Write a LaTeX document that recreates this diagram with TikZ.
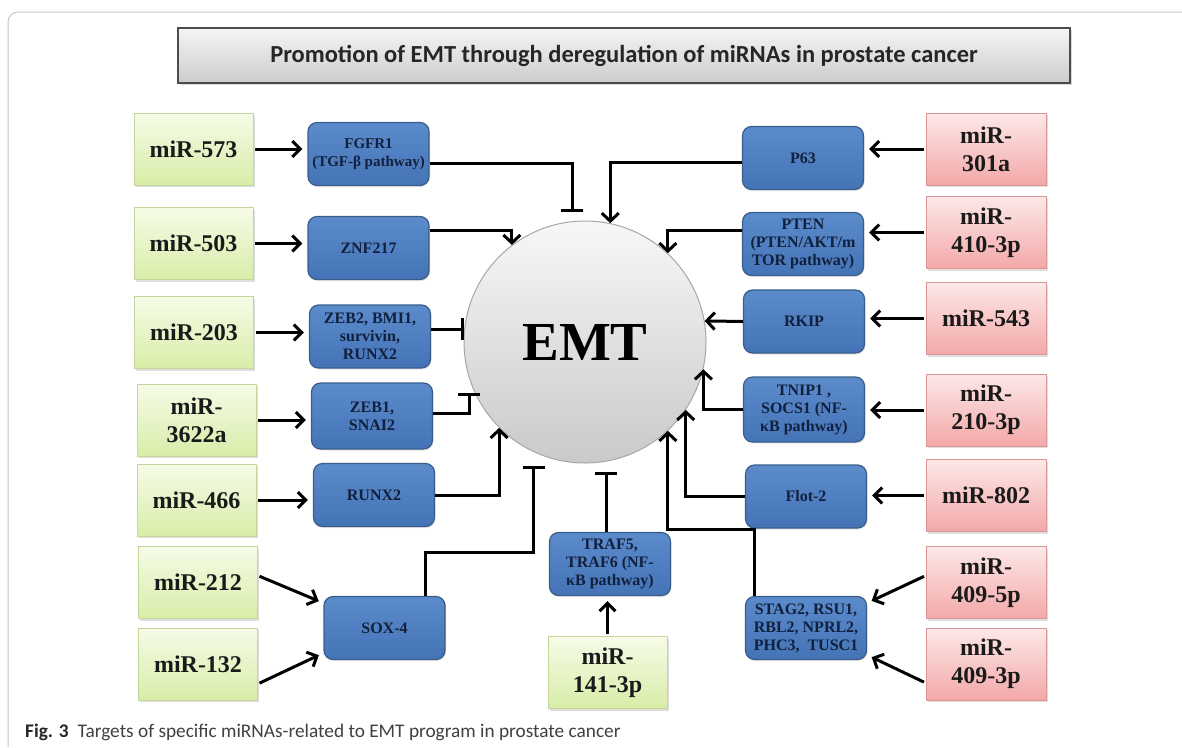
\documentclass[tikz,border=0pt]{standalone}
\usepackage{fontspec}
\setmainfont{Liberation Serif}
\newfontfamily\calfont{Carlito}
\usepackage{tikz}
\usetikzlibrary{arrows.meta,positioning,calc,shadows}

\definecolor{greentop}{HTML}{F6FBE8}
\definecolor{greenbot}{HTML}{D8EDA8}
\definecolor{greenline}{HTML}{C3D79A}
\definecolor{pinktop}{HTML}{FDE8E8}
\definecolor{pinkbot}{HTML}{F3A8A8}
\definecolor{pinkline}{HTML}{D99694}
\definecolor{bluetop}{HTML}{5B8BCB}
\definecolor{bluebot}{HTML}{4474B6}
\definecolor{blueline}{HTML}{385D8A}
\definecolor{bluetext}{HTML}{11203C}
\definecolor{mirtext}{HTML}{1A1A1A}

\tikzset{
  mirup/.style={draw=greenline, top color=greentop, bottom color=greenbot,
    minimum width=119pt, minimum height=72pt, inner sep=2pt, align=center,
    text=mirtext, font=\fontsize{24}{28}\selectfont\bfseries,
    drop shadow={shadow xshift=1.5pt,shadow yshift=-2pt,opacity=.25}},
  mirdown/.style={mirup, draw=pinkline, top color=pinktop, bottom color=pinkbot,
    minimum width=120pt},
  target/.style={draw=blueline, line width=1.2pt, top color=bluetop, bottom color=bluebot,
    rounded corners=9pt, minimum width=121pt, minimum height=63pt, inner sep=1pt,
    align=center, text=bluetext, font=\fontsize{16}{18}\selectfont\bfseries,
    drop shadow={shadow xshift=1pt,shadow yshift=-1.5pt,opacity=.2}},
  hub/.style={circle, draw=gray!70, line width=1pt, top color=gray!6, bottom color=gray!42,
    minimum size=242pt, inner sep=0pt, font=\fontsize{55}{60}\selectfont\bfseries},
  titlebox/.style={draw=black!70, line width=1.2pt, top color=gray!8, bottom color=gray!40,
    minimum width=892pt, minimum height=55pt, text=black!85,
    font=\calfont\fontsize{24.5}{28}\selectfont\bfseries,
    drop shadow={shadow xshift=1.5pt,shadow yshift=-2pt,opacity=.3}},
  feed/.style={-{Straight Barb[length=8pt,width=16pt]}, line width=3pt,
    shorten >=5pt, shorten <=2pt},
  act/.style={-{Straight Barb[length=8pt,width=17pt]}, line width=3pt},
  inh/.style={-{Bar[width=22pt]}, line width=3pt},
}

\begin{document}
\begin{tikzpicture}[x=1pt,y=-1pt]
\useasboundingbox (0,0) rectangle (1182,747);

% frame
\draw[gray!45, line width=1pt, rounded corners=10pt] (8,747) -- (8,12) -- (1182,12);

\node[titlebox] (title) at (624,55.5) {Promotion of EMT through deregulation of miRNAs in prostate cancer};

\node[hub] (emt) at (585,342) {EMT};

% miRNAs, left
\node[mirup] (m573) at (193.5,149) {miR-573};
\node[mirup] (m503) at (193.5,243.5) {miR-503};
\node[mirup] (m203) at (194,332.5) {miR-203};
\node[mirup] (m3622) at (196.5,420) {miR-\\3622a};
\node[mirup] (m466) at (196.5,500) {miR-466};
\node[mirup] (m212) at (198,582.5) {miR-212};
\node[mirup] (m132) at (198,664) {miR-132};
\node[mirup] (m141) at (607.5,672.5) {miR-\\141-3p};

% miRNAs, right
\node[mirdown] (m301) at (986,149) {miR-\\301a};
\node[mirdown] (m410) at (986,232.5) {miR-\\410-3p};
\node[mirdown] (m543) at (986,318.5) {miR-543};
\node[mirdown] (m210) at (986,410) {miR-\\210-3p};
\node[mirdown] (m802) at (986,495.5) {miR-802};
\node[mirdown] (m4095) at (986,582.5) {miR-\\409-5p};
\node[mirdown] (m4093) at (986,664) {miR-\\409-3p};

% targets
\node[target, font=\fontsize{15}{18}\selectfont\bfseries] (fgfr1) at (368.5,154) {FGFR1\\(TGF-β pathway)};
\node[target] (znf) at (368.5,248) {ZNF217};
\node[target] (zeb2) at (370,336.5) {ZEB2, BMI1,\\survivin,\\RUNX2};
\node[target, minimum height=66pt] (zeb1) at (372,416) {ZEB1,\\SNAI2};
\node[target] (runx2) at (374,495) {RUNX2};
\node[target] (sox) at (384.5,628) {SOX-4};
\node[target] (traf) at (610,564) {TRAF5,\\TRAF6 (NF-\\κB pathway)};
\node[target] (p63) at (803,158) {P63};
\node[target] (pten) at (803,244) {PTEN\\(PTEN/AKT/m\\TOR pathway)};
\node[target] (rkip) at (804,321.5) {RKIP};
\node[target, minimum height=65pt] (tnip) at (804,409.5) {TNIP1 ,\\SOCS1 (NF-\\κB pathway)};
\node[target] (flot) at (806,496.5) {Flot-2};
\node[target] (stag) at (806,628) {STAG2, RSU1,\\RBL2, NPRL2,\\PHC3,~ TUSC1};

\coordinate (zbar) at (469,393);

% miRNA -> target
\foreach \a/\b in {m573/fgfr1,m503/znf,m203/zeb2,m3622/zeb1,m466/runx2}
  \draw[feed] (\a.east) -- (\a.east -| \b.west);
\foreach \a/\b in {m301/p63,m410/pten,m543/rkip,m210/tnip,m802/flot}
  \draw[feed] (\a.west) -- (\a.west -| \b.east);
\draw[feed] ([yshift=7pt]m212.east) -- ([yshift=25pt]sox.west);
\draw[feed] ([yshift=-20pt]m132.east) -- ([yshift=-25pt]sox.west);
\draw[feed] ([yshift=7pt]m4095.west) -- ([yshift=25pt]stag.east);
\draw[feed] ([yshift=-19pt]m4093.west) -- ([yshift=-27pt]stag.east);
\draw[feed] (m141.north) -- (m141.north |- traf.south);

% target -> EMT
\draw[inh, shorten >=9pt] ([yshift=-9pt]fgfr1.east) -| (emt.96);
\draw[act] ([yshift=-4pt]p63.west) -| (emt.78);
\draw[act] ([yshift=18pt]znf.east) -| (emt.127);
\draw[act] ([yshift=14pt]pten.west) -| (emt.47);
\draw[inh] (zeb2.east |- emt.174) -- (emt.174);
\draw[inh] ([yshift=3pt]zeb1.east) -| (zbar);
\draw[act] (runx2.east) -| (emt.225);
\draw[inh, shorten >=14pt] ([xshift=40.5pt]sox.north) -- ++(0,-43) -| (emt.245);
\draw[inh, shorten >=10pt] (traf.north -| emt.-80) -- (emt.-80);
\draw[act] ([xshift=-52pt]stag.north) -- ++(0,-66) -| (emt.-47);
\draw[act] (flot.west) -| (emt.-34);
\draw[act] (tnip.west) -| (emt.-13);
\draw[act] (rkip.west) -- (emt.10);

% caption
\node[anchor=base west, inner sep=0pt, text=black!75, font=\calfont\fontsize{19.3}{22}\selectfont]
  (cap) at (25,737) {\textbf{\color{black!85}Fig. 3}\hspace{9pt}Targets of specific miRNAs-related to EMT program in prostate cancer};

\end{tikzpicture}
\end{document}
